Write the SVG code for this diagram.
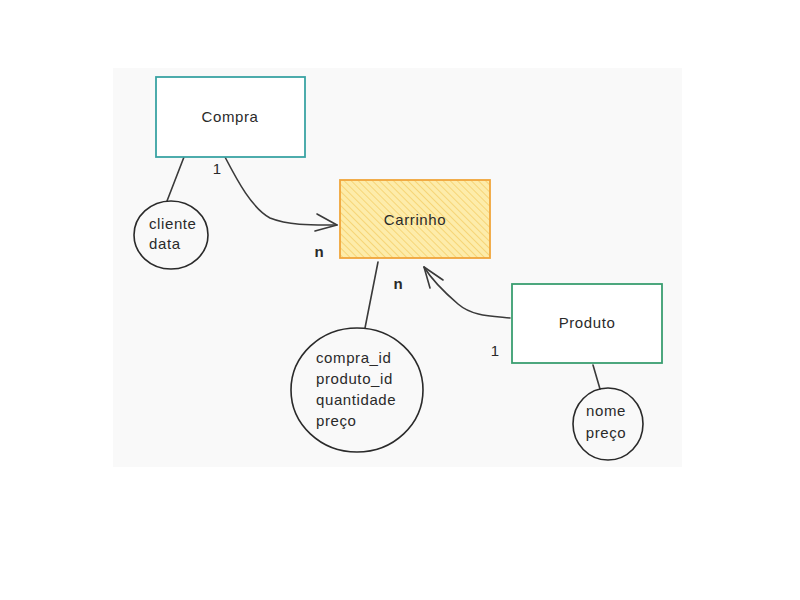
<svg xmlns="http://www.w3.org/2000/svg" width="800" height="600" viewBox="0 0 800 600">
<defs>
<pattern id="hatch" patternUnits="userSpaceOnUse" width="5" height="5" patternTransform="rotate(-45)">
<rect width="5" height="5" fill="#fdecaa"/>
<line x1="0" y1="0" x2="0" y2="5" stroke="#f5d06a" stroke-width="1.6"/>
</pattern>
</defs>
<style>
.t{font-family:"Liberation Sans",Arial,sans-serif;font-size:15px;fill:#2a2a2a}
.c{text-anchor:middle}
.w{letter-spacing:0.6px}
.ln{fill:none;stroke:#3a3a3a;stroke-width:1.6;stroke-linecap:round;stroke-linejoin:round}
.circ{fill:none;stroke:#2a2a2a;stroke-width:1.6}
</style>
<rect width="800" height="600" fill="#ffffff"/>
<rect x="113" y="68" width="569" height="399" fill="#f9f9f9"/>

<g id="connectors">
<path class="ln" d="M184,157 L167,201"/>
<path class="ln" d="M225,157 C238,182 252,208 270,218 C290,226 315,225 337,225"/>
<path class="ln" d="M317,214 L337,225 L315,231"/>
<path class="ln" d="M378,262 L365,328"/>
<path class="ln" d="M510,318 C490,316 472,316 458,304 C444,292 432,280 424,267"/>
<path class="ln" d="M443,280 L424,267 L430,288"/>
<path class="ln" d="M593,365 L600,389"/>
<text class="t c" x="217" y="174">1</text>
<text class="t c" x="319" y="257" font-weight="bold">n</text>
<text class="t c" x="398" y="289" font-weight="bold">n</text>
<text class="t c" x="495" y="356">1</text>
</g>

<g id="compra">
<rect x="156" y="77" width="149" height="80" fill="#ffffff" stroke="#3aa3a3" stroke-width="1.8"/>
<text class="t c w" x="230" y="122">Compra</text>
</g>

<g id="carrinho">
<rect x="340" y="180" width="150" height="78" fill="url(#hatch)" stroke="#f0a53a" stroke-width="1.8"/>
<text class="t c w" x="415" y="225">Carrinho</text>
</g>

<g id="produto">
<rect x="512" y="284" width="150" height="79" fill="#ffffff" stroke="#3a9e70" stroke-width="1.8"/>
<text class="t c w" x="587" y="328">Produto</text>
</g>

<g id="atributos-compra">
<ellipse class="circ" cx="171" cy="235" rx="37" ry="34"/>
<text class="t w" x="149" y="229">cliente</text>
<text class="t w" x="149" y="249">data</text>
</g>

<g id="atributos-carrinho">
<ellipse class="circ" cx="357" cy="390" rx="66" ry="62"/>
<text class="t w" x="316" y="363" font-size="16">compra_id</text>
<text class="t w" x="316" y="384" font-size="16">produto_id</text>
<text class="t w" x="316" y="405" font-size="16">quantidade</text>
<text class="t w" x="316" y="426" font-size="16">preço</text>
</g>

<g id="atributos-produto">
<ellipse class="circ" cx="608" cy="424" rx="35" ry="36"/>
<text class="t c w" x="606" y="416">nome</text>
<text class="t c w" x="606" y="438">preço</text>
</g>
</svg>
